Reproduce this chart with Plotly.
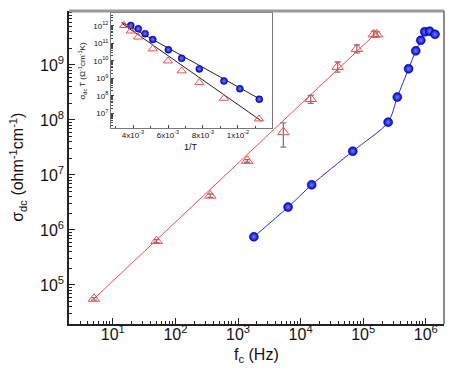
import plotly.graph_objects as go

# main panel: critical frequency vs dc conductivity
red_f = [5, 50, 360, 1400, 5300, 1.45e4, 3.9e4, 7.9e4, 1.47e5, 1.66e5]
red_sigma = [5.6e4, 6.3e5, 4.2e6, 1.8e7, 6.0e7, 2.4e8, 9.2e8, 1.95e9, 3.6e9, 3.6e9]
red_err_hi = [5.9e4, 6.7e5, 4.5e6, 1.9e7, 8.8e7, 2.8e8, 1.13e9, 2.3e9, 4.1e9, 4.0e9]
red_err_lo = [5.3e4, 5.9e5, 3.9e6, 1.7e7, 3.2e7, 2.0e8, 7.4e8, 1.65e9, 3.2e9, 3.2e9]
red_fit_f = [5, 1.7e5]
red_fit_sigma = [5.6e4, 4.0e9]

blue_f = [1790, 6300, 1.5e4, 6.8e4, 2.5e5, 3.5e5, 5.3e5, 6.9e5, 8.3e5, 9.6e5, 1.15e6, 1.4e6]
blue_sigma = [7.5e5, 2.6e6, 6.6e6, 2.7e7, 9.1e7, 2.6e8, 8.5e8, 1.8e9, 2.8e9, 4.0e9, 4.1e9, 3.6e9]

main_tickvals = [1e1, 1e2, 1e3, 1e4, 1e5, 1e6]
main_ytickvals = [1e5, 1e6, 1e7, 1e8, 1e9]

# inset: sigma_dc*T vs 1/T
inset_blue_x = [0.00387, 0.00430, 0.00469, 0.00513, 0.00602, 0.00678, 0.00779, 0.00920, 0.01011, 0.01122]
inset_blue_y = [1.05e12, 6.8e11, 3.6e11, 1.66e11, 4.3e10, 1.41e10, 3.5e9, 7.2e8, 2.6e8, 6.5e7]
inset_red_x = [0.00349, 0.00387, 0.00429, 0.00513, 0.00600, 0.00678, 0.00779, 0.00920, 0.01120]
inset_red_y = [1.05e12, 5.1e11, 2.3e11, 4.9e10, 1.0e10, 2.7e9, 5.8e8, 7.4e7, 4.9e6]
inset_fit_x = [0.00335, 0.01135]
inset_blue_fit_y = [1.62e12, 5.9e7]
inset_red_fit_y = [1.41e12, 3.7e6]

inset_xtickvals = [0.004, 0.006, 0.008, 0.010]
inset_xticktext = ["4x10<sup>-3</sup>", "6x10<sup>-3</sup>", "8x10<sup>-3</sup>", "1x10<sup>-2</sup>"]
inset_ytickvals = [1e7, 1e8, 1e9, 1e10, 1e11, 1e12]

RED = "#ff4a4a"
BLUE = "#2a2aff"


def pow10(v):
    exp = len(str(int(round(v)))) - 1
    return f"10<sup>{exp}</sup>"


def sphere(size):
    # shaded ball: dark rim, lighter centre
    return dict(size=size, color="#0000c8",
                gradient=dict(type="radial", color="#6f82ff"),
                line=dict(width=0.5, color="#000090"))


fig = go.Figure()

fig.add_trace(go.Scatter(x=red_fit_f, y=red_fit_sigma, mode="lines",
                         line=dict(color=RED, width=1), showlegend=False))
fig.add_trace(go.Scatter(
    x=red_f, y=red_sigma, mode="markers",
    marker=dict(symbol="triangle-up-open", size=10, color=RED, line=dict(width=1)),
    error_y=dict(type="data", symmetric=False,
                 array=[h - s for h, s in zip(red_err_hi, red_sigma)],
                 arrayminus=[s - l for s, l in zip(red_sigma, red_err_lo)],
                 color="#7a7a7a", thickness=1.3, width=3),
    showlegend=False))
fig.add_trace(go.Scatter(x=blue_f, y=blue_sigma, mode="lines+markers",
                         line=dict(color=BLUE, width=1, shape="spline", smoothing=0.8),
                         marker=sphere(9), showlegend=False))

# inset traces
fig.add_trace(go.Scatter(x=inset_fit_x, y=inset_blue_fit_y, mode="lines", xaxis="x2", yaxis="y2",
                         line=dict(color="#222222", width=1), showlegend=False))
fig.add_trace(go.Scatter(x=inset_fit_x, y=inset_red_fit_y, mode="lines", xaxis="x2", yaxis="y2",
                         line=dict(color="#222222", width=1), showlegend=False))
fig.add_trace(go.Scatter(x=inset_blue_x, y=inset_blue_y, mode="markers", xaxis="x2", yaxis="y2",
                         marker=sphere(7), showlegend=False))
fig.add_trace(go.Scatter(x=inset_red_x, y=inset_red_y, mode="markers", xaxis="x2", yaxis="y2",
                         marker=dict(symbol="triangle-up-open", size=8, color=RED, line=dict(width=1)),
                         showlegend=False))

axis_font = dict(family="Liberation Sans, Arial, sans-serif", size=16, color="#111111")
small_font = dict(family="Liberation Sans, Arial, sans-serif", size=8, color="#111111")

# the page body keeps its default 8px margin, so the figure is 8px smaller
fig.update_layout(
    width=455, height=363,
    margin=dict(l=61, r=19, t=3, b=47, autoexpand=False),
    paper_bgcolor="white", plot_bgcolor="white",
    font=axis_font,
    xaxis=dict(type="log", range=[0.30, 6.29], showgrid=False, zeroline=False, automargin=False,
               tickvals=main_tickvals, ticktext=[pow10(v) for v in main_tickvals],
               ticks="inside", ticklen=6, tickcolor="#222", ticklabelstandoff=-5,
               minor=dict(ticks="inside", ticklen=3, tickcolor="#222", dtick="D1"),
               showline=True, linecolor="#222", linewidth=1.5, mirror=False,
               tickfont=axis_font),
    yaxis=dict(type="log", range=[4.29, 9.98], showgrid=False, zeroline=False, automargin=False,
               tickvals=main_ytickvals, ticktext=[pow10(v) for v in main_ytickvals],
               ticks="inside", ticklen=6, tickcolor="#222",
               minor=dict(ticks="inside", ticklen=3, tickcolor="#222", dtick="D1"),
               showline=True, linecolor="#222", linewidth=1.5, mirror=False,
               tickfont=axis_font),
    xaxis2=dict(domain=[0.112, 0.541], anchor="y2", range=[0.00274, 0.01194], automargin=False,
                showgrid=False, zeroline=False,
                tickvals=inset_xtickvals, ticktext=inset_xticktext,
                ticks="inside", ticklen=3, tickcolor="#444", ticklabelstandoff=-1,
                minor=dict(ticks="inside", ticklen=2, tickcolor="#444", dtick=0.001, tick0=0),
                showline=True, linecolor="#777", linewidth=1, mirror=True,
                tickfont=small_font),
    yaxis2=dict(domain=[0.626, 0.994], anchor="x2", type="log", range=[6.17, 12.74], automargin=False,
                showgrid=False, zeroline=False,
                tickvals=inset_ytickvals, ticktext=[pow10(v) for v in inset_ytickvals],
                ticks="inside", ticklen=3, tickcolor="#444",
                minor=dict(ticks="inside", ticklen=2, tickcolor="#444", dtick="D1"),
                showline=True, linecolor="#777", linewidth=1, mirror=True,
                tickfont=small_font),
    annotations=[
        dict(text="f<sub>c</sub> (Hz)", xref="paper", yref="paper", x=0.5, y=-0.1,
             xanchor="center", yanchor="middle", showarrow=False, font=axis_font),
        dict(text="σ<sub>dc</sub> (ohm<sup>-1</sup>cm<sup>-1</sup>)", xref="paper", yref="paper",
             x=-0.138, y=0.5, textangle=-90, xanchor="center", yanchor="middle",
             showarrow=False, font=axis_font),
        dict(text="1/T", xref="paper", yref="paper", x=0.326, y=0.565,
             xanchor="center", yanchor="middle", showarrow=False, font=dict(small_font, size=9)),
        dict(text="σ<sub>dc</sub> T (Ω<sup>-1</sup>cm<sup>-1</sup>K)", xref="paper", yref="paper",
             x=0.035, y=0.81, textangle=-90, xanchor="center", yanchor="middle",
             showarrow=False, font=small_font),
    ],
    shapes=[
        # top frame (grey) and right frame of the main panel
        dict(type="line", xref="paper", yref="paper", x0=0, x1=1, y0=1, y1=1,
             line=dict(color="#9a9a9a", width=3)),
        dict(type="line", xref="paper", yref="paper", x0=1, x1=1, y0=0, y1=1,
             line=dict(color="#666666", width=1.5)),
    ],
)

fig.write_html("out.html")
